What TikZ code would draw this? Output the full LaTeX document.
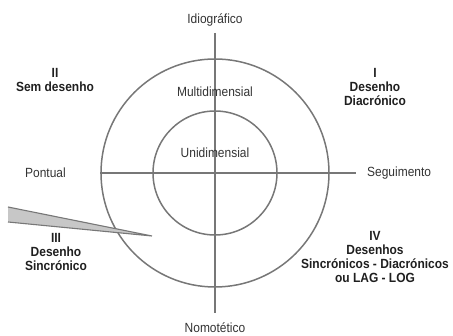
\documentclass[tikz,border=0pt]{standalone}
\usepackage{fontspec}
\setmainfont{Liberation Sans}[FakeStretch=0.9]
\definecolor{axisgray}{HTML}{777777}
\definecolor{txtgray}{HTML}{333333}
\tikzset{
  axis/.style={draw=axisgray, line width=1.5pt},
  ring/.style={draw=axisgray, line width=1.5pt},
  lbl/.style={text=txtgray, font=\fontsize{13.3}{15}\selectfont, inner sep=0pt},
  quad/.style={text=black!88, font=\fontsize{13.3}{13.8}\selectfont\bfseries, align=center, inner sep=0pt},
}
\begin{document}
\begin{tikzpicture}[x=1pt, y=-1pt]
    \useasboundingbox (0,0) rectangle (453,336);
    \coordinate (c) at (215,173);
    % axes
    \coordinate (top) at (215,33);
    \coordinate (bot) at (215,313);
    \coordinate (lft) at (100,173);
    \coordinate (rgt) at (356,173);
    \draw[axis] (top) -- (bot);
    \draw[axis] (lft) -- (rgt);
    % circles
    \draw[ring] (c) circle[radius=114];
    \draw[ring] (c) circle[radius=62];
    % pointer
    \coordinate (tip) at (152,236);
    \filldraw[fill=black!22, draw=axisgray, line width=1.1pt] (8,207) -- (tip) -- (8,222);
    % axis labels
    \node[lbl] (idio) at (215,20) {Idiográfico};
    \node[lbl] (nomo) at (215,328) {Nomotético};
    \node[lbl, anchor=east] (pont) at (66,173) {Pontual};
    \node[lbl, anchor=west] (segu) at (367,173) {Seguimento};
    \node[lbl] (multi) at (215,92) {Multidimensial};
    \node[lbl] (uni) at (215,153) {Unidimensial};
    % quadrants
    \node[quad] (q1) at (375,87) {I\\Desenho\\Diacrónico};
    \node[quad] (q2) at (55,80) {II\\Sem desenho};
    \node[quad] (q3) at (56,252) {III\\Desenho\\Sincrónico};
    \node[quad] (q4) at (375,257) {IV\\Desenhos\\Sincrónicos - Diacrónicos\\ou LAG - LOG};
\end{tikzpicture}
\end{document}
